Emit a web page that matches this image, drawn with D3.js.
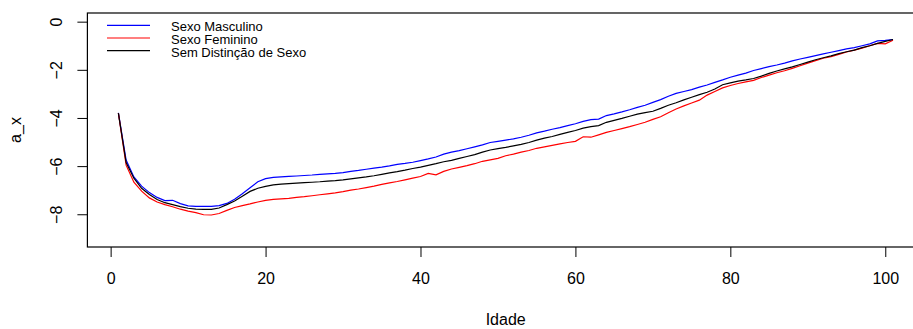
<!DOCTYPE html>
<html lang="pt">
<head>
  <meta charset="UTF-8">
  <title>a_x por Idade</title>
  <script src="https://d3js.org/d3.v7.min.js"></script>
  <style>
    body { margin: 0; background: #fff; }
    svg { display: block; font-family: "Liberation Sans", Arial, sans-serif; }
    .serie { fill: none; stroke-width: 1.2; }
  </style>
</head>
<body>
  <svg width="913" height="329"></svg>

  <script>
    const ages = d3.range(1, 102);

    const masculino = [
      -3.79, -5.75, -6.45, -6.83, -7.1, -7.3, -7.43, -7.42, -7.56, -7.65,
      -7.67, -7.67, -7.67, -7.64, -7.55, -7.38, -7.15, -6.9, -6.65, -6.52,
      -6.47, -6.45, -6.43, -6.41, -6.39, -6.37, -6.34, -6.32, -6.3, -6.27,
      -6.22, -6.18, -6.13, -6.08, -6.04, -5.99, -5.93, -5.89, -5.84, -5.77,
      -5.7, -5.62, -5.5, -5.42, -5.36, -5.28, -5.2, -5.12, -5.02, -4.97,
      -4.92, -4.87, -4.8, -4.72, -4.62, -4.55, -4.47, -4.4, -4.32, -4.24,
      -4.14, -4.07, -4.05, -3.9, -3.83, -3.75, -3.66, -3.56, -3.47, -3.35,
      -3.24, -3.1, -2.98, -2.9, -2.82, -2.72, -2.63, -2.52, -2.42, -2.31,
      -2.22, -2.14, -2.03, -1.95, -1.87, -1.8, -1.72, -1.63, -1.55, -1.48,
      -1.41, -1.34, -1.27, -1.2, -1.13, -1.08, -1.0, -0.92, -0.8, -0.78,
      -0.75
    ];

    const feminino = [
      -3.8, -5.96, -6.67, -7.04, -7.32, -7.49, -7.6, -7.69, -7.79, -7.87,
      -7.93, -8.02, -8.03, -7.97, -7.84, -7.72, -7.64, -7.57, -7.49, -7.42,
      -7.38, -7.36, -7.34, -7.3, -7.27, -7.23, -7.19, -7.15, -7.11, -7.06,
      -7.0, -6.95, -6.89, -6.83, -6.76, -6.7, -6.64, -6.57, -6.5, -6.43,
      -6.3, -6.36, -6.22, -6.12, -6.05, -5.98, -5.9, -5.8, -5.74, -5.68,
      -5.57, -5.5, -5.42, -5.35, -5.26, -5.2, -5.14, -5.08, -5.02, -4.97,
      -4.78, -4.8, -4.7, -4.6, -4.52, -4.44, -4.36, -4.27, -4.18, -4.06,
      -3.95, -3.78, -3.63, -3.5, -3.38, -3.26, -3.05, -2.9, -2.75, -2.65,
      -2.57, -2.5, -2.44, -2.32, -2.22, -2.12, -2.04, -1.94, -1.83, -1.72,
      -1.62, -1.52, -1.45, -1.36, -1.26, -1.18, -1.1, -1.0, -0.9, -0.92,
      -0.77
    ];

    const semDistincao = [
      -3.8, -5.85, -6.5, -6.92, -7.18, -7.39, -7.52, -7.6, -7.68, -7.75,
      -7.79, -7.8, -7.8, -7.74, -7.6, -7.45, -7.25, -7.05, -6.92, -6.84,
      -6.78, -6.75, -6.73, -6.71, -6.69, -6.67, -6.65, -6.62, -6.6, -6.57,
      -6.53, -6.49, -6.45, -6.4, -6.34, -6.28, -6.23, -6.17, -6.1, -6.04,
      -5.97, -5.9, -5.82, -5.76, -5.68, -5.6, -5.52, -5.42, -5.33, -5.27,
      -5.22, -5.16, -5.1, -5.02, -4.92, -4.84, -4.77, -4.68, -4.6, -4.52,
      -4.42, -4.36, -4.32, -4.18, -4.1, -4.02, -3.93, -3.84, -3.78, -3.72,
      -3.6, -3.47, -3.37, -3.25, -3.14, -3.03, -2.93, -2.8, -2.62, -2.54,
      -2.47, -2.42, -2.36, -2.26, -2.15, -2.05, -1.96, -1.88, -1.78, -1.68,
      -1.58, -1.5, -1.42, -1.33, -1.25, -1.18, -1.08, -1.0, -0.9, -0.82,
      -0.74
    ];

    const xTicks = [0, 20, 40, 60, 80, 100];
    const yTicks = [0, -2, -4, -6, -8];
    const yLim = [-9, 0];

    const legendLabels = ['Sexo Masculino', 'Sexo Feminino', 'Sem Distinção de Sexo'];
    const legendColors = ['#0000ff', '#ff0000', '#000000'];

    // plot region (right edge runs past the window, as in the original)
    const plotLeft = 87.4, plotRight = 924, plotTop = 13, plotBottom = 247;

    // R style: pad 4% each side
    const pad = (lo, hi) => [lo - 0.04 * (hi - lo), hi + 0.04 * (hi - lo)];

    const x = d3.scaleLinear()
      .domain(pad(d3.min(ages), d3.max(ages)))
      .range([plotLeft, plotRight]);

    const y = d3.scaleLinear()
      .domain(pad(yLim[0], yLim[1]))
      .range([plotBottom, plotTop]);

    const svg = d3.select('svg');

    //x axis
    const gx = svg.append('g')
      .attr('transform', `translate(0,${plotBottom})`)
      .call(d3.axisBottom(x).tickValues(xTicks).tickSize(10).tickPadding(16).tickFormat(d3.format('d')));
    gx.select('.domain').remove();
    gx.selectAll('line').attr('stroke', '#000');
    gx.selectAll('text').attr('font-size', 16).attr('fill', '#000');

    //y axis, labels turned like R's las=0
    const gy = svg.append('g')
      .attr('transform', `translate(${plotLeft},0)`)
      .call(d3.axisLeft(y).tickValues(yTicks).tickSize(10).tickFormat(d3.format('d')));
    gy.select('.domain').remove();
    gy.selectAll('line').attr('stroke', '#000');
    gy.selectAll('text')
      .attr('x', null)
      .attr('dy', null)
      .attr('font-size', 16)
      .attr('fill', '#000')
      .attr('text-anchor', 'middle')
      .attr('transform', 'translate(-25,0) rotate(-90)');

    //box
    svg.append('rect')
      .attr('x', plotLeft)
      .attr('y', plotTop)
      .attr('width', plotRight - plotLeft)
      .attr('height', plotBottom - plotTop)
      .attr('fill', 'none')
      .attr('stroke', '#000')
      .attr('stroke-width', 1.2);

    //axis titles
    svg.append('text')
      .attr('x', (plotLeft + plotRight) / 2)
      .attr('y', 325)
      .attr('text-anchor', 'middle')
      .attr('font-size', 16)
      .text('Idade');

    svg.append('text')
      .attr('transform', `translate(21,${(plotTop + plotBottom) / 2}) rotate(-90)`)
      .attr('text-anchor', 'middle')
      .attr('font-size', 16)
      .text('a_x');

    //series
    const line = d3.line()
      .x((d, i) => x(ages[i]))
      .y(d => y(d));

    [[masculino, legendColors[0]], [feminino, legendColors[1]], [semDistincao, legendColors[2]]]
      .forEach(([vals, col]) => {
        svg.append('path')
          .datum(vals)
          .attr('class', 'serie')
          .attr('stroke', col)
          .attr('d', line);
      });

    //legend (no border)
    const legend = svg.append('g');
    legendLabels.forEach((lab, i) => {
      const ly = 25.3 + i * 12.7;
      legend.append('line')
        .attr('x1', 107).attr('x2', 150)
        .attr('y1', ly).attr('y2', ly)
        .attr('stroke', legendColors[i])
        .attr('stroke-width', 1.2);
      legend.append('text')
        .attr('x', 171)
        .attr('y', ly + 5.8)
        .attr('font-size', 13)
        .text(lab);
    });
  </script>
</body>
</html>
